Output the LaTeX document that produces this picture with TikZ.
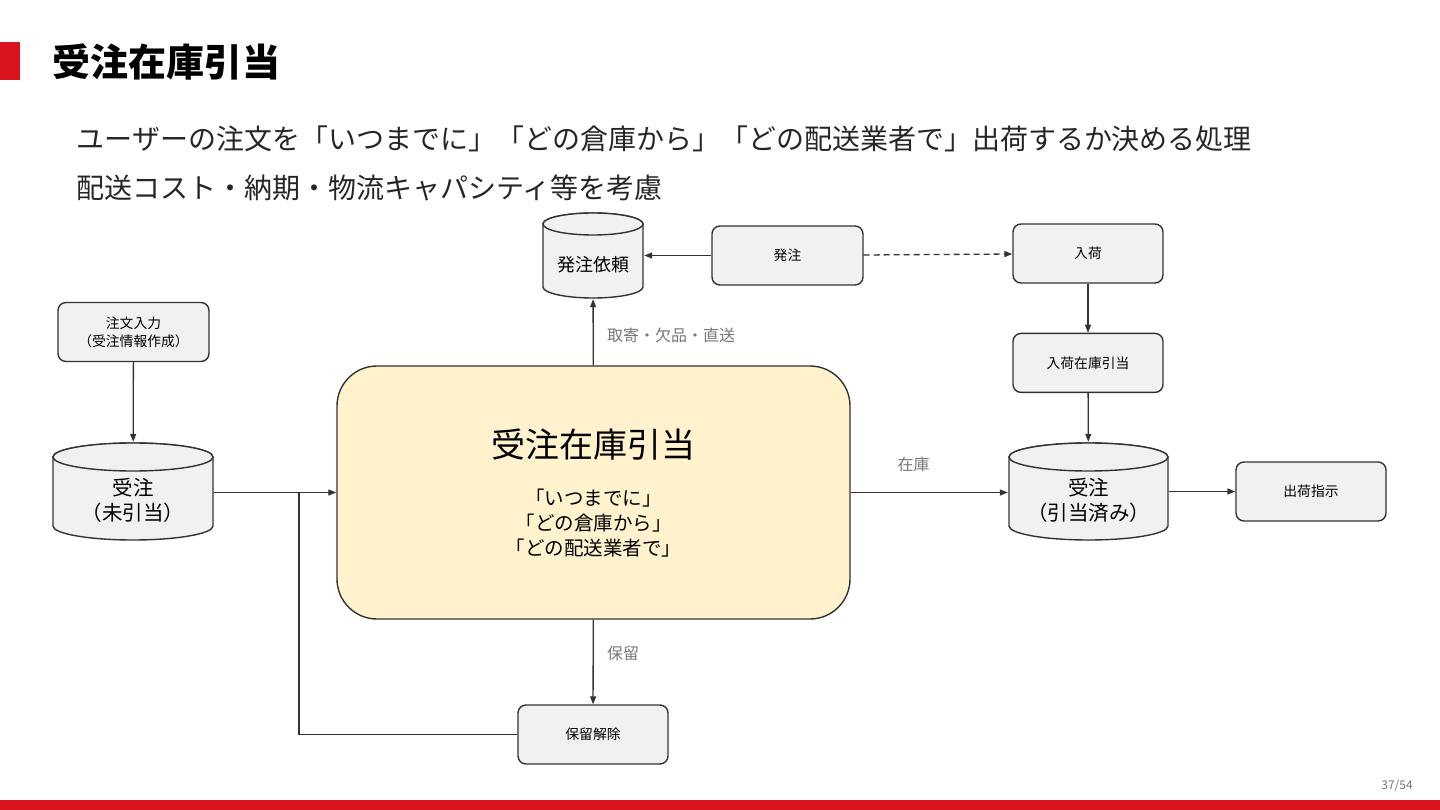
\documentclass[tikz,border=0pt]{standalone}
\usepackage{fontspec}
\setmainfont{Noto Sans CJK JP}
\usetikzlibrary{positioning,arrows.meta}

\definecolor{accent}{HTML}{D9141E}
\definecolor{boxgray}{HTML}{F1F1F1}
\definecolor{linegray}{HTML}{333333}
\definecolor{mainfill}{HTML}{FFF2CC}
\definecolor{labelgray}{HTML}{777777}

%spusta tekst ispod gornje elipse
\newcommand{\dbpad}[1]{\rule{0pt}{#1pt}}

\tikzset{
  dbline/.style={draw=linegray, line width=1.4pt, fill=boxgray},
  %valjak: #1 x radius, #2 y radius, #3 visina
  db/.style n args={3}{rectangle, inner sep=0pt, align=center,
    minimum width={2*#1pt+2pt}, minimum height={#3pt+2pt},
    font=\fontsize{20.5}{25}\selectfont,
    path picture={
      \path[dbline] ([xshift=1pt, yshift={-(#2pt+1pt)}]path picture bounding box.north west)
        -- ([xshift=1pt, yshift={#2pt+1pt}]path picture bounding box.south west)
        arc[start angle=180, end angle=360, x radius=#1pt, y radius=#2pt]
        -- ([xshift=-1pt, yshift={-(#2pt+1pt)}]path picture bounding box.north east)
        arc[start angle=0, end angle=180, x radius=#1pt, y radius=#2pt] -- cycle;
      \path[dbline] ([yshift={-(#2pt+1pt)}]path picture bounding box.north)
        ellipse[x radius=#1pt, y radius=#2pt];
    }}
}

\begin{document}
\begin{tikzpicture}[x=1pt, y=-1pt, node distance=49pt and 68pt,
  arrow/.style={-{Triangle[length=8pt,width=6pt]}, line width=1.3pt, draw=linegray},
  link/.style={line width=1.3pt, draw=linegray},
  box/.style={draw=linegray, line width=1.4pt, fill=boxgray, rounded corners=8pt, minimum width=150pt, minimum height=59pt, align=center, font=\fontsize{13.8}{18}\selectfont},
  lbl/.style={text=labelgray, font=\fontsize{16}{19}\selectfont}]
\useasboundingbox (0,0) rectangle (1440,810);

%naslov
\fill[accent] (0,42) rectangle (20,80);
\node (title) [anchor=west, font=\fontsize{38}{44}\selectfont\bfseries] at (49,62) {受注在庫引当};
\node (sub1) [anchor=west, text=black!85, font=\fontsize{28}{34}\selectfont] at (73,139) {ユーザーの注文を「いつまでに」「どの倉庫から」「どの配送業者で」出荷するか決める処理};
\node (sub2) [anchor=west, text=black!85, font=\fontsize{28}{34}\selectfont] at (73,188) {配送コスト・納期・物流キャパシティ等を考慮};

%lijevi dio
\node (entry) [box, minimum width=151pt] at (133.5,332) {注文入力\\（受注情報作成）};
\node (ordnew) [db={80}{14}{97}] at (133,491.5) {\dbpad{35}受注\\（未引当）};

%glavni cvor
\node (main) [draw=linegray, line width=1.4pt, fill=mainfill, rounded corners=40pt, minimum width=513pt, minimum height=253pt, align=center, font=\fontsize{19.5}{25}\selectfont] at (593.5,492.5) {{\fontsize{34}{40}\selectfont 受注在庫引当}\\[23pt]「いつまでに」\\「どの倉庫から」\\「どの配送業者で」};

%gornji dio
\node (req) [db={50}{11}{85}, font=\fontsize{18}{22}\selectfont] at (593,255.5) {\dbpad{33}発注依頼};
\node (po) [box, minimum width=151pt] at (787.5,255.5) {発注};
\node (arr) [box] at (1088,253.5) {入荷};
\node (arralloc) [box, below=of arr] {入荷在庫引当};

%desni dio
\node (ordalloc) [db={79.5}{14}{97}] at (1088.5,491.5) {\dbpad{35}受注\\（引当済み）};
\node (ship) [box] at (1311,491.5) {出荷指示};

%donji dio
\node (hold) [box] at (593,734.5) {保留解除};
\coordinate (join) at (299,492);

%strelice
\draw[arrow] (entry) -- (ordnew);
\draw[arrow] (ordnew.east |- main.west) -- (main.west);
\draw[arrow] (main) -- node[lbl, pos=0.45, right=10pt] {取寄・欠品・直送} (req);
\draw[arrow] (po.west) -- (po.west -| req.east);
\draw[arrow, dash pattern=on 6pt off 4pt] (po) -- (arr);
\draw[arrow] (arr) -- (arralloc);
\draw[arrow] (arralloc) -- (ordalloc);
\draw[arrow] (main.east) -- node[lbl, pos=0.4, above=17pt] {在庫} (ordalloc.west |- main.east);
\draw[arrow] (ordalloc.east |- ship.west) -- (ship);
\draw[arrow] (main) -- node[lbl, pos=0.4, right=10pt] {保留} (hold);
\draw[link] (hold.west) -| (join);

%broj stranice
\node (pageno) [text=labelgray, font=\fontsize{12}{14}\selectfont] at (1397,786) {37/54};
\fill[accent] (0,800) rectangle (1440,810);
\end{tikzpicture}
\end{document}
